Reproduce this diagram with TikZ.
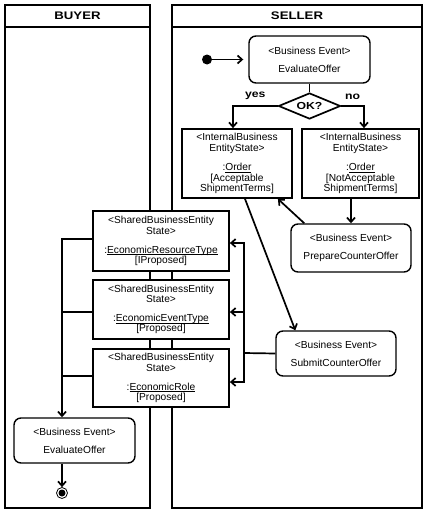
\documentclass[tikz,border=0pt]{standalone}
\usepackage{fontspec}
\setmainfont{Liberation Sans}
\newfontfamily\widebold{Liberation Sans}[FakeStretch=1.2]
\usetikzlibrary{shapes,arrows.meta}

\begin{document}
\begin{tikzpicture}[x=1pt,y=-1pt,>={Straight Barb[length=4.5pt,width=8pt]}]
\useasboundingbox (0,0) rectangle (428,514);

\tikzstyle{lane}=[draw,line width=2pt]
\tikzstyle{event}=[draw,fill=white,rounded corners=7pt,line width=1.4pt,
  align=center,inner sep=0pt]
\tikzstyle{state}=[draw,fill=white,line width=1.8pt,align=center,inner sep=0pt]
\tikzstyle{flow}=[line width=1.7pt]

\newcommand\bizevent[1]{\textless Business Event\textgreater\\[7.5pt]#1}
\newcommand\intstate[2]{%
  \textless InternalBusiness\\EntityState\textgreater\\[9pt]:\underline{\smash{#1}}\\#2}
\newcommand\shstate[2]{%
  \textless SharedBusinessEntity\\State\textgreater\\[8.5pt]:\underline{\smash{#1}}\\#2}

\fontsize{10.2}{10.4}\selectfont

%% Draw swimlanes
\draw[lane] (5,5) rectangle (150,508) (5,27) -- (150,27);
\draw[lane] (172,5) rectangle (422,508) (172,27) -- (422,27);
\node (buyer) at (77.5,16) {\fontsize{11}{11}\widebold\bfseries BUYER};
\node (seller) at (297,16) {\fontsize{11}{11}\widebold\bfseries SELLER};

%% Seller side
\node [circle,fill,inner sep=0pt,minimum size=10pt] (init) at (207,59.5) {};
\node [event,minimum width=121pt,minimum height=47pt] (ev0) at (309.5,59.5)
  {\bizevent{EvaluateOffer}};
\node [diamond,draw,fill=white,line width=1.7pt,inner sep=0pt,aspect=2.4,
  minimum width=62pt,minimum height=26pt] (dec) at (309.5,106)
  {\widebold\bfseries OK?};
\node [state,minimum width=110pt,minimum height=69pt] (st0) at (237,163.5)
  {\intstate{Order}{{[}Acceptable\\ShipmentTerms]}};
\node [state,minimum width=117pt,minimum height=69pt] (st1) at (360.5,163.5)
  {\intstate{Order}{{[}NotAcceptable\\ShipmentTerms]}};
\node [event,minimum width=120pt,minimum height=48pt] (ev1) at (351,248)
  {\bizevent{PrepareCounterOffer}};
\node [event,minimum width=120pt,minimum height=45pt] (ev2) at (336,353.5)
  {\bizevent{SubmitCounterOffer}};

%% Shared states (across both lanes)
\node [state,minimum width=136pt,minimum height=60pt] (sh0) at (161,241)
  {\shstate{EconomicResourceType}{{[}IProposed]}};
\node [state,minimum width=136pt,minimum height=59pt] (sh1) at (161,309.5)
  {\shstate{EconomicEventType}{{[}Proposed]}};
\node [state,minimum width=136pt,minimum height=58pt] (sh2) at (161,378)
  {\shstate{EconomicRole}{{[}Proposed]}};

%% Buyer side
\node [event,minimum width=121pt,minimum height=45pt] (ev3) at (74.5,440.5)
  {\bizevent{EvaluateOffer}};
\node [circle,draw,line width=0.8pt,inner sep=0pt,minimum size=11pt] (fin) at (62,493) {};
\fill (fin) circle (3.5pt);

\coordinate (jr) at (244,353);
\coordinate (jl) at ([xshift=-12.5pt]ev3.north);

\draw[flow,->,shorten >=5pt] (init) -- (ev0);
\draw[flow] (ev0) -- (dec);
\draw[flow,->] (dec.west) -| ([xshift=-4pt]st0.north)
  node[pos=0.25,above=2pt] {\widebold\bfseries yes};
\draw[flow,->] (dec.east) -| ([xshift=3.5pt]st1.north)
  node[pos=0.25,above=2pt] {\widebold\bfseries no};
\draw[flow,->] (ev1.north |- st1.south) -- (ev1.north);
\draw[flow,->] ([xshift=14pt]ev1.north west) -- ([xshift=-15pt]st0.south east);
\draw[flow,->] ([xshift=8pt]st0.south) -- ([xshift=20pt]ev2.north west);
\draw[flow] (ev2.west) -- (jr);
\draw[flow,->] (jr) |- ([yshift=-2pt]sh0.east);
\draw[flow,->] (jr) |- ([yshift=-2.5pt]sh1.east);
\draw[flow,->] (jr) |- ([yshift=-4pt]sh2.east);
\draw[flow,->] ([yshift=2pt]sh0.west) -| (jl);
\draw[flow] ([yshift=-2.5pt]sh1.west) -- ([yshift=-2.5pt]sh1.west -| jl);
\draw[flow] ([yshift=2pt]sh2.west) -- ([yshift=2pt]sh2.west -| jl);
\draw[flow,->] ([xshift=-12.5pt]ev3.south) -- (fin);

\end{tikzpicture}
\end{document}
